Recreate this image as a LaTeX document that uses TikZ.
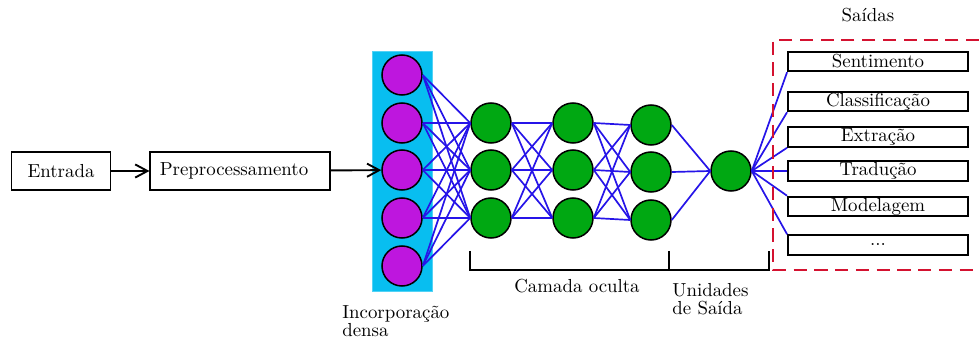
\documentclass[tikz,border=0pt]{standalone}
\usepackage{fontspec}
\usetikzlibrary{arrows.meta}
\usetikzlibrary{positioning}
\definecolor{embcyan}{RGB}{8,190,240}
\definecolor{embpurple}{RGB}{190,22,222}
\definecolor{unitgreen}{RGB}{0,168,18}
\definecolor{edgeblue}{RGB}{38,20,232}
\definecolor{dashred}{RGB}{212,18,48}
\tikzset {
  % rectangular processing step
  stepbox/.style = {
    draw = black,
    line width = 1pt,
    rectangle,
    minimum height = 20pt,
    inner sep = 2pt
  },
  % one of the task boxes on the right
  taskbox/.style = {
    stepbox,
    minimum width = 95.4pt,
    minimum height = 10.4pt,
    inner sep = 0.5pt
  },
  % neuron styles
  neuron/.style = {
    draw = black,
    thick,
    circle,
    minimum size = 21.2pt,
    inner sep = 0
  },
  embunit/.style = {
    neuron,
    fill = embpurple
  },
  hidunit/.style = {
    neuron,
    fill = unitgreen
  },
  link/.style = {
    draw = edgeblue,
    line width = 0.9pt
  },
  flow/.style = {
    draw = black,
    line width = 1pt,
    -{Straight Barb[length=6.5pt,width=7pt]}
  },
  label/.style = {
    font = \normalsize,
    inner sep = 0
  }
}

\begin{document}
\begin{tikzpicture}[x=0.53pt, y=-0.53pt]
    \useasboundingbox (0,0) rectangle (979,342);

    % input side
    \node[stepbox, minimum width=52.5pt] (entrada) at (61,171) {Entrada};
    \node[stepbox, inner xsep=5pt, text width=85pt, align=left]
      (prep) at (240,171) {Preprocessamento};

    % dense embedding layer
    \fill[embcyan] (372,51) rectangle (432,291);
    \draw[embcyan!70!white, line width=0.4pt] (372,51) rectangle (432,291);
    \foreach \i/\y in {1/75, 2/123, 3/170, 4/218, 5/266}
      \node[embunit] (emb-\i) at (402,\y) {};

    % hidden layers
    \foreach \i/\y in {1/123, 2/170, 3/218} {
      \node[hidunit] (hid-a-\i) at (491,\y) {};
      \node[hidunit] (hid-b-\i) at (573,\y) {};
    }
    \foreach \i/\y in {1/125, 2/172, 3/220}
      \node[hidunit] (hid-c-\i) at (651,\y) {};
    \node[hidunit] (unit) at (731,171) {};

    % tasks
    \node[taskbox] (sent) at (878,61.5) {Sentimento};
    \node[taskbox] (class) at (878,101.5) {Classificação};
    \node[taskbox] (extr) at (878,137) {Extração};
    \node[taskbox] (trad) at (878,171) {Tradução};
    \node[taskbox] (model) at (878,206.5) {Modelagem};
    \node[taskbox] (etc) at (878,245) {...};

    \draw[flow] (entrada) -- (prep);
    \draw[flow] (prep) -- (emb-3);

    % fully connected, east side to west side
    \foreach \i in {1,...,5}
      \foreach \j in {1,2,3}
        \draw[link] (emb-\i.east) -- (hid-a-\j.west);
    \foreach \i in {1,2,3}
      \foreach \j in {1,2,3} {
        \draw[link] (hid-a-\i.east) -- (hid-b-\j.west);
        \draw[link] (hid-b-\i.east) -- (hid-c-\j.west);
      }
    \foreach \i in {1,2,3}
      \draw[link] (hid-c-\i.east) -- (unit.west);

    \draw[link] (unit.east) -- (sent.south west);
    \draw[link] (unit.east) -- (class.south west);
    \draw[link] (unit.east) -- (extr.south west);
    \draw[link] (unit.east) -- (trad.west);
    \draw[link] (unit.east) -- (model.north west);
    \draw[link] (unit.east) -- (etc.north west);

    % outputs frame, open to the right
    \draw[dashred, line width=1pt, dash pattern=on 7pt off 4pt]
      (979,40) -- (773,40) -- (773,270) -- (979,270);
    \node[label] (saidas) at (868,15) {Saídas};

    % braces under the layers
    \draw[line width=1pt] (470,251) -- (470,270) -- (769,270) -- (769,251);
    \draw[line width=1pt] (669,251) -- (669,270);
    \node[label] (oculta) at (577,286) {Camada oculta};
    \node[label, anchor=north west, align=left] (saida) at (672,283)
      {Unidades\\[-2.5pt]de Saída};
    \node[label, anchor=north west, align=left] (dense) at (342,305)
      {Incorporação\\[-2.5pt]densa};
\end{tikzpicture}
\end{document}
